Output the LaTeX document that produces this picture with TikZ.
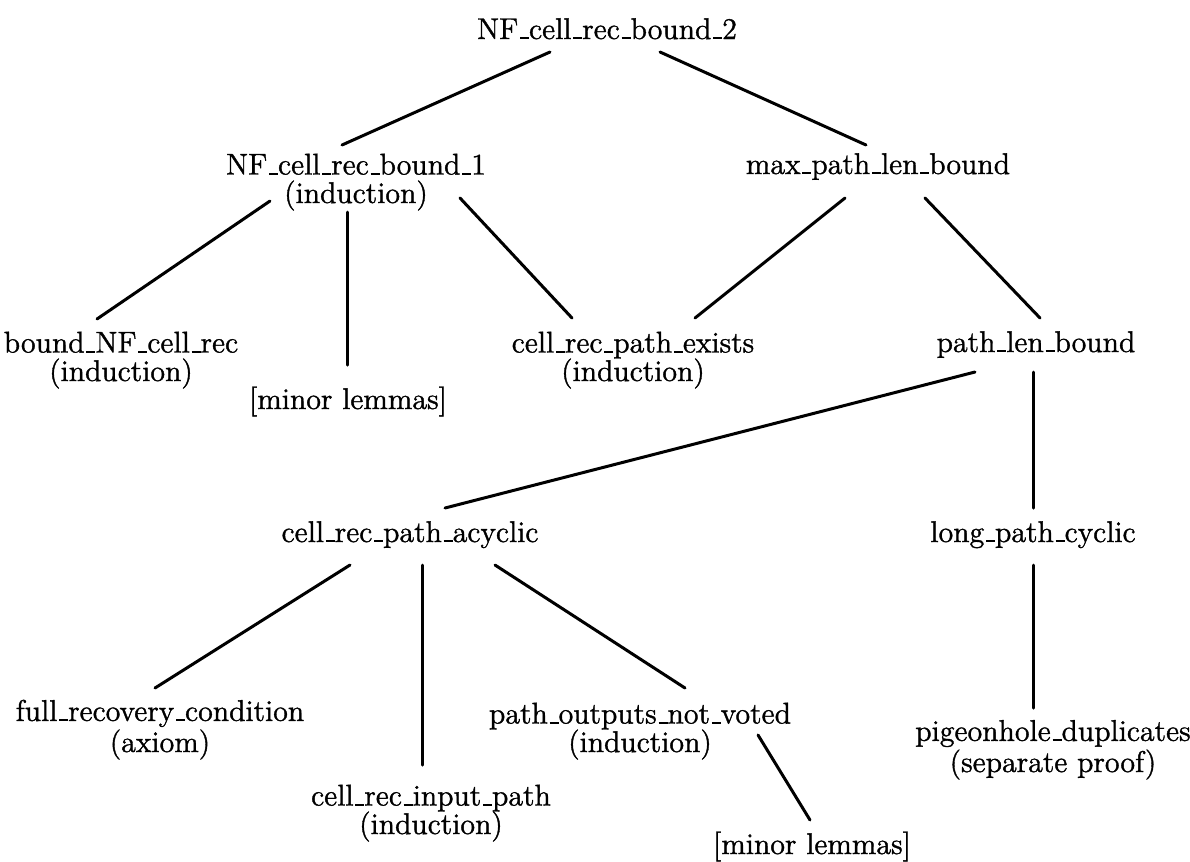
\documentclass[tikz,border=0pt]{standalone}
\usepackage{fontspec}
% Latin Modern at 12pt, darkened like an old laser print
\newfontfamily\lemmafont{lmroman12-regular.otf}[FakeBold=1.2]
% narrow, low underscore as in the classic Computer Modern setting
\DeclareRobustCommand{\_}{\leavevmode\kern.06em\vbox{\hrule width.3em height .7pt}}
\begin{document}
\begin{tikzpicture}[x=0.4pt,y=-0.4pt,
  lemma/.style={inner sep=0pt,anchor=base,align=center,
    font=\lemmafont\fontsize{12}{11.4}\selectfont},
  link/.style={line width=1.2pt,line cap=round}]
\useasboundingbox (0,0) rectangle (1190,861);
% proof tree: lemma names with the method used for each
% (a two-line node's base point is the baseline of its last line)
\node[lemma] (root)  at (607,39)   {NF\_cell\_rec\_bound\_2};
\node[lemma] (nf1)   at (356,203)  {NF\_cell\_rec\_bound\_1\\(induction)};
\node[lemma] (mplb)  at (878,174)  {max\_path\_len\_bound};
\node[lemma] (bnf)   at (121,381)  {bound\_NF\_cell\_rec\\(induction)};
\node[lemma] (minA)  at (348,409)  {[minor lemmas]};
\node[lemma] (cpe)   at (633,381)  {cell\_rec\_path\_exists\\(induction)};
\node[lemma] (plb)   at (1036,352) {path\_len\_bound};
\node[lemma] (acyc)  at (410,542)  {cell\_rec\_path\_acyclic};
\node[lemma] (lpc)   at (1033,542) {long\_path\_cyclic};
\node[lemma] (frc)   at (160,752)  {full\_recovery\_condition\\(axiom)};
\node[lemma] (pont)  at (640,752)  {path\_outputs\_not\_voted\\(induction)};
\node[lemma] (crip)  at (431,834)  {cell\_rec\_input\_path\\(induction)};
\node[lemma] (minB)  at (812,854)  {[minor lemmas]};
\node[lemma] (pig)   at (1053,772) {pigeonhole\_duplicates\\(separate proof)};
% connectors, each end given relative to its node's base point
\draw[link] ([shift={(-57,13)}]root.base) -- ([shift={(-14,-58)}]nf1.base);
\draw[link] ([shift={(53,13)}]root.base)  -- ([shift={(-12,-29)}]mplb.base);
\draw[link] ([shift={(-86,-2)}]nf1.base)  -- ([shift={(-24,-62)}]bnf.base);
\draw[link] ([shift={(-9,9)}]nf1.base)    -- ([shift={(-1,-44)}]minA.base);
\draw[link] ([shift={(104,-5)}]nf1.base)  -- ([shift={(-61,-63)}]cpe.base);
\draw[link] ([shift={(-33,24)}]mplb.base) -- ([shift={(62,-63)}]cpe.base);
\draw[link] ([shift={(47,24)}]mplb.base)  -- ([shift={(4,-34)}]plb.base);
\draw[link] ([shift={(-61,20)}]plb.base)  -- ([shift={(35,-34)}]acyc.base);
\draw[link] ([shift={(-3,20)}]plb.base)   -- ([shift={(0,-34)}]lpc.base);
\draw[link] ([shift={(-60,23)}]acyc.base) -- ([shift={(-5,-64)}]frc.base);
\draw[link] ([shift={(12,23)}]acyc.base)  -- ([shift={(-9,-69)}]crip.base);
\draw[link] ([shift={(85,23)}]acyc.base)  -- ([shift={(45,-64)}]pont.base);
\draw[link] ([shift={(0,23)}]lpc.base)    -- ([shift={(-20,-64)}]pig.base);
\draw[link] ([shift={(118,-17)}]pont.base) -- ([shift={(-2,-34)}]minB.base);
\end{tikzpicture}
\end{document}
